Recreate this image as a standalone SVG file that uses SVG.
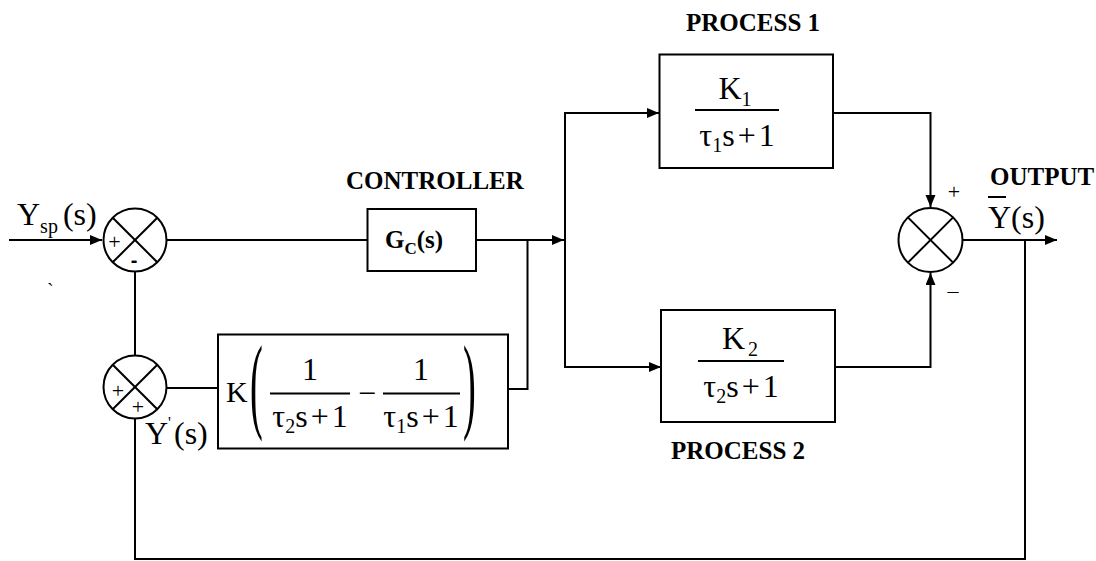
<svg xmlns="http://www.w3.org/2000/svg" width="1096" height="561" viewBox="0 0 1096 561">
  <defs>
    <marker id="arr" markerUnits="userSpaceOnUse" markerWidth="13" markerHeight="11" refX="12" refY="5" orient="auto">
      <path d="M0,0 L12,5 L0,10 z" fill="#000"/>
    </marker>
    <style>
      .ln { stroke:#000; stroke-width:2; fill:none; }
      .box { fill:#fff; stroke:#000; stroke-width:2; }
      .sum { fill:#fff; stroke:#000; stroke-width:2; }
      .x { stroke:#000; stroke-width:2; }
      .lbl { font-family:"Liberation Serif", "Times New Roman", serif; font-weight:bold; font-size:25px; fill:#000; }
      .m { font-family:"Liberation Serif", "Times New Roman", serif; font-size:32px; fill:#000; }
      .sub { font-size:20px; }
      .sg { font-family:"Liberation Serif", "Times New Roman", serif; font-size:22px; fill:#000; }
      .par { font-family:"Liberation Serif", "Times New Roman", serif; font-size:32px; fill:#000; }
    </style>
  </defs>
  <rect width="1096" height="561" fill="#fff"/>

  <g id="connectors">
    <path class="ln" d="M9,240 H102" marker-end="url(#arr)"/>
    <path class="ln" d="M166.5,240 H367.5"/>
    <path class="ln" d="M476,240 H564" marker-end="url(#arr)"/>
    <path class="ln" d="M565,113 V367"/>
    <path class="ln" d="M564,113 H659" marker-end="url(#arr)"/>
    <path class="ln" d="M564,367 H661" marker-end="url(#arr)"/>
    <path class="ln" d="M527.5,240 V389 H508"/>
    <path class="ln" d="M218,388 H166.5"/>
    <path class="ln" d="M135,271.5 V355.5"/>
    <path class="ln" d="M1025,240 V559 H135 V418.5"/>
    <path class="ln" d="M833,113 H930.5 V207" marker-end="url(#arr)"/>
    <path class="ln" d="M835,367 H930.5 V273" marker-end="url(#arr)"/>
    <path class="ln" d="M962.5,240 H1057" marker-end="url(#arr)"/>
  </g>

  <g id="sum1">
    <circle class="sum" cx="135" cy="240" r="31.5"/>
    <line class="x" x1="112.7" y1="217.7" x2="157.3" y2="262.3"/>
    <line class="x" x1="112.7" y1="262.3" x2="157.3" y2="217.7"/>
    <text class="sg" x="114.5" y="249" text-anchor="middle">+</text>
    <text x="134" y="267" text-anchor="middle" style="font-family:'Liberation Sans', sans-serif; font-weight:bold; font-size:20px;">-</text>
  </g>

  <g id="sum3">
    <circle class="sum" cx="135" cy="387" r="31.5"/>
    <line class="x" x1="112.7" y1="364.7" x2="157.3" y2="409.3"/>
    <line class="x" x1="112.7" y1="409.3" x2="157.3" y2="364.7"/>
    <text class="sg" x="118" y="398" text-anchor="middle">+</text>
    <text class="sg" x="138" y="414" text-anchor="middle">+</text>
  </g>

  <g id="sum2">
    <circle class="sum" cx="930.5" cy="240" r="32"/>
    <line class="x" x1="907.9" y1="217.4" x2="953.1" y2="262.6"/>
    <line class="x" x1="907.9" y1="262.6" x2="953.1" y2="217.4"/>
    <text class="sg" x="954" y="199" text-anchor="middle">+</text>
    <text class="sg" x="953" y="298" text-anchor="middle">–</text>
  </g>

  <g id="input">
    <text class="m" x="17" y="225">Y<tspan class="sub" dy="8">sp</tspan><tspan dx="5" dy="-8">(s)</tspan></text>
    <text x="47" y="298" style="font-family:'Liberation Serif', serif; font-size:20px;">`</text>
  </g>

  <g id="controller">
    <text class="lbl" x="346" y="189">CONTROLLER</text>
    <rect class="box" x="367.5" y="209" width="108.5" height="62"/>
    <text class="lbl" x="385" y="248">G<tspan style="font-size:17px" dy="6">C</tspan><tspan dy="-6">(s)</tspan></text>
  </g>

  <g id="process1">
    <text class="lbl" x="686" y="31">PROCESS 1</text>
    <rect class="box" x="659.5" y="54.5" width="173.5" height="113.5"/>
    <text class="m" x="735" y="99" text-anchor="middle">K<tspan class="sub" dy="7">1</tspan></text>
    <line class="x" x1="695" y1="110" x2="779" y2="110"/>
    <text class="m" x="737" y="146" text-anchor="middle">τ<tspan class="sub" dy="6">1</tspan><tspan dy="-6">s</tspan><tspan dx="3">+</tspan><tspan dx="3">1</tspan></text>
  </g>

  <g id="process2">
    <rect class="box" x="661" y="310" width="174" height="112"/>
    <text class="m" x="740" y="349" text-anchor="middle">K<tspan class="sub" dx="3" dy="7">2</tspan></text>
    <line class="x" x1="698" y1="361" x2="784" y2="361"/>
    <text class="m" x="741" y="397" text-anchor="middle">τ<tspan class="sub" dy="6">2</tspan><tspan dy="-6">s</tspan><tspan dx="3">+</tspan><tspan dx="3">1</tspan></text>
    <text class="lbl" x="671" y="459">PROCESS 2</text>
  </g>

  <g id="compensator">
    <rect class="box" x="218" y="334.5" width="290" height="114"/>
    <text class="m" x="226" y="402" style="font-size:30px">K</text>
    <text class="par" transform="translate(250,419) scale(1.2,3.3)">(</text>
    <text class="m" x="310" y="380" text-anchor="middle">1</text>
    <line class="x" x1="270" y1="393.5" x2="350" y2="393.5"/>
    <text class="m" x="310" y="427" text-anchor="middle">τ<tspan class="sub" dy="6">2</tspan><tspan dy="-6">s</tspan><tspan dx="3">+</tspan><tspan dx="3">1</tspan></text>
    <text class="m" x="367" y="404" text-anchor="middle">−</text>
    <text class="m" x="421" y="380" text-anchor="middle">1</text>
    <line class="x" x1="383" y1="393.5" x2="460" y2="393.5"/>
    <text class="m" x="421" y="427" text-anchor="middle">τ<tspan class="sub" dy="6">1</tspan><tspan dy="-6">s</tspan><tspan dx="3">+</tspan><tspan dx="3">1</tspan></text>
    <text class="par" transform="translate(463,419) scale(1.2,3.3)">)</text>
  </g>

  <g id="feedback-label">
    <text class="m" x="145" y="444">Y</text>
    <text x="168" y="428" style="font-family:'Liberation Serif', serif; font-size:16px;">'</text>
    <text class="m" x="174" y="444">(s)</text>
  </g>

  <g id="output">
    <text class="lbl" x="990" y="185">OUTPUT</text>
    <line class="x" x1="988" y1="197" x2="1006" y2="197"/>
    <text class="m" x="988" y="228">Y(s)</text>
  </g>
</svg>
